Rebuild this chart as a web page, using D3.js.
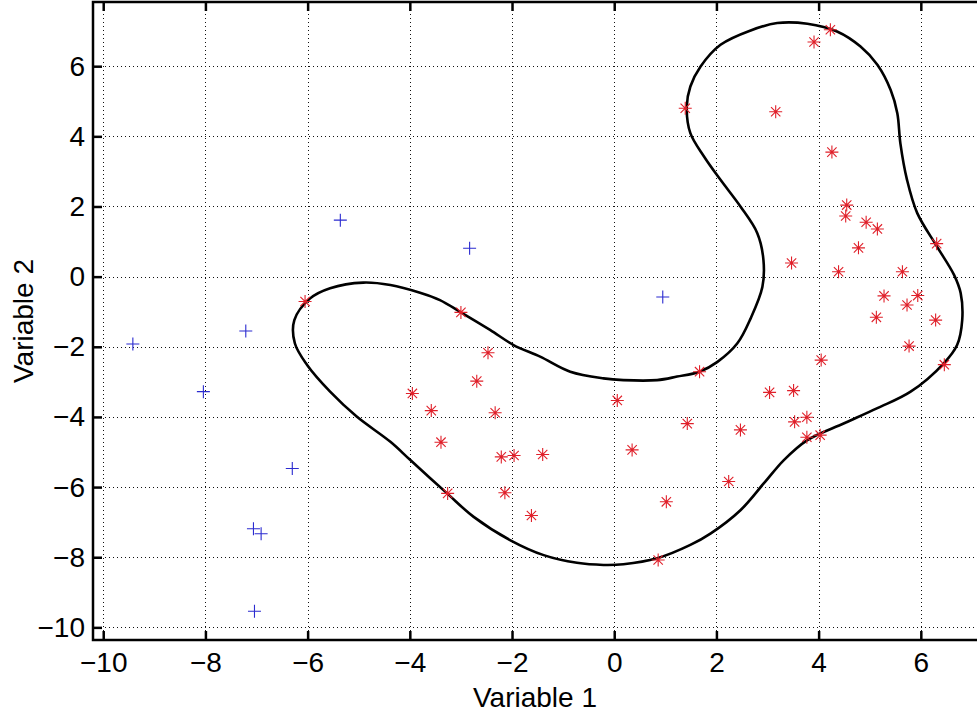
<!DOCTYPE html>
<html>
<head>
<meta charset="utf-8">
<script src="https://cdn.jsdelivr.net/npm/d3@7"></script>
<style>
  body { margin: 0; background: #fff; }
  svg { display: block; }
</style>
</head>
<body>
<div id="viz"></div>
<script>
// Scatter of two classes with a closed decision boundary

const xTicks = [-10, -8, -6, -4, -2, 0, 2, 4, 6];
const yTicks = [-10, -8, -6, -4, -2, 0, 2, 4, 6];

// class 1 (blue +), outside the boundary
const outsidePts = [
    [-9.42, -1.92], [-8.04, -3.28], [-7.21, -1.55], [-6.30, -5.47], [-7.06, -7.19],
    [-6.91, -7.33], [-7.04, -9.54], [-5.36, 1.61], [-2.83, 0.81], [0.95, -0.58]
];

// class 2 (red *), inside the boundary
const insidePts = [
    [-6.05, -0.71], [1.39, 4.80], [-3.00, -1.02], [4.23, 7.04], [3.91, 6.69],
    [3.16, 4.70], [4.26, 3.55], [4.55, 2.04], [4.53, 1.73], [4.93, 1.55],
    [5.15, 1.36], [4.78, 0.82], [3.47, 0.39], [4.39, 0.14], [5.64, 0.14],
    [6.31, 0.94], [5.28, -0.55], [5.94, -0.54], [5.73, -0.81], [5.13, -1.16],
    [6.29, -1.24], [5.77, -1.98], [6.46, -2.51], [1.67, -2.71], [4.05, -2.38],
    [3.04, -3.30], [3.51, -3.25], [1.43, -4.19], [2.47, -4.37], [3.53, -4.14],
    [3.77, -4.01], [3.77, -4.58], [4.03, -4.52], [2.24, -5.84], [-2.47, -2.17],
    [-2.69, -2.98], [-3.95, -3.33], [-3.58, -3.82], [-2.33, -3.88], [-3.39, -4.72],
    [-2.21, -5.14], [-1.96, -5.10], [-1.40, -5.07], [-3.26, -6.18], [-2.14, -6.16],
    [-1.62, -6.81], [0.06, -3.53], [0.35, -4.94], [1.02, -6.42], [0.86, -8.08]
];

// boundary contour, traced in data units
const boundary = [
    [-6.26, -1.24], [-6.25, -1.90], [-6.01, -2.52], [-5.56, -3.28], [-5.04, -3.99],
    [-4.38, -4.71], [-3.99, -5.23], [-3.27, -6.18], [-2.75, -6.85], [-2.04, -7.51],
    [-1.38, -7.94], [-0.73, -8.16], [-0.21, -8.22], [0.18, -8.20], [0.84, -8.03],
    [1.49, -7.65], [1.89, -7.32], [2.47, -6.66], [2.93, -5.89], [3.32, -5.23],
    [3.78, -4.66], [4.50, -4.18], [5.15, -3.75], [5.80, -3.28], [6.45, -2.47],
    [6.71, -1.95], [6.81, -1.24], [6.78, -0.47], [6.65, 0.05], [6.32, 0.85],
    [5.93, 1.81], [5.73, 2.76], [5.60, 3.80], [5.54, 4.66], [5.41, 5.32],
    [5.15, 6.04], [4.82, 6.56], [4.36, 6.99], [3.78, 7.21], [3.19, 7.23],
    [2.67, 7.02], [2.08, 6.61], [1.69, 5.99], [1.49, 5.42], [1.42, 4.85],
    [1.49, 4.09], [1.76, 3.42], [2.08, 2.76], [2.47, 2.00], [2.80, 1.24],
    [2.92, 0.48], [2.90, -0.29], [2.67, -1.19], [2.41, -1.90], [2.02, -2.43],
    [1.67, -2.71], [1.23, -2.85], [0.84, -2.95], [0.18, -2.95], [-0.21, -2.90],
    [-0.86, -2.71], [-1.45, -2.28], [-1.97, -1.95], [-2.43, -1.52], [-3.00, -1.02],
    [-3.41, -0.67], [-3.80, -0.46], [-4.38, -0.24], [-4.91, -0.17], [-5.56, -0.33],
    [-5.95, -0.62]
];

const width = 977, height = 715;
const xDomain = [-10.2, 7.4];
const yDomain = [-10.36, 7.83];

const svg = d3.select("#viz")
    .append("svg")
    .attr("width", width)
    .attr("height", height)
    .style("background-color", "#fff")
    .style("font-family", "Arial, 'Liberation Sans', sans-serif");

const x = d3.scaleLinear().domain(xDomain).range([93, 93 + 17.6 * 51.1]);
const y = d3.scaleLinear().domain(yDomain).range([640, 2]);

const plotLeft = x(xDomain[0]), plotRight = x(xDomain[1]);
const plotTop = y(yDomain[1]), plotBottom = y(yDomain[0]);

// dotted grid
const grid = svg.append("g")
    .attr("stroke", "#111")
    .attr("stroke-width", 1)
    .attr("stroke-dasharray", "1,3");

grid.selectAll("line.vx")
    .data(xTicks)
    .enter().append("line")
    .attr("x1", d => Math.round(x(d)) + 0.5).attr("x2", d => Math.round(x(d)) + 0.5)
    .attr("y1", plotTop).attr("y2", plotBottom);

grid.selectAll("line.hy")
    .data(yTicks)
    .enter().append("line")
    .attr("y1", d => Math.round(y(d)) + 0.5).attr("y2", d => Math.round(y(d)) + 0.5)
    .attr("x1", plotLeft).attr("x2", plotRight);

// boundary
svg.append("path")
    .datum(boundary)
    .attr("fill", "none")
    .attr("stroke", "#000")
    .attr("stroke-width", 2.6)
    .attr("d", d3.line()
        .x(d => x(d[0]))
        .y(d => y(d[1]))
        .curve(d3.curveCatmullRomClosed.alpha(0.5)));

// markers
const plusPath = r => `M${-r},0H${r}M0,${-r}V${r}`;
const starPath = r => {
    const q = r * 0.72;
    return `M${-r},0H${r}M0,${-r}V${r}M${-q},${-q}L${q},${q}M${-q},${q}L${q},${-q}`;
};

svg.selectAll("path.outside")
    .data(outsidePts)
    .enter().append("path")
    .attr("class", "outside")
    .attr("d", plusPath(6.5))
    .attr("transform", d => `translate(${x(d[0])},${y(d[1])})`)
    .attr("stroke", "#2b2bd0")
    .attr("stroke-width", 1.1)
    .attr("fill", "none");

svg.selectAll("path.inside")
    .data(insidePts)
    .enter().append("path")
    .attr("class", "inside")
    .attr("d", starPath(6.5))
    .attr("transform", d => `translate(${x(d[0])},${y(d[1])})`)
    .attr("stroke", "#e0202a")
    .attr("stroke-width", 1.1)
    .attr("fill", "none");

// axes with inward ticks
const fontSize = 28;

const xAxis = svg.append("g")
    .attr("transform", `translate(0,${plotBottom})`)
    .call(d3.axisBottom(x).tickValues(xTicks).tickSize(-9).tickPadding(12).tickFormat(d3.format("d")));

const xAxisTop = svg.append("g")
    .attr("transform", `translate(0,${plotTop})`)
    .call(d3.axisTop(x).tickValues(xTicks).tickSize(-9).tickFormat(""));

const yAxis = svg.append("g")
    .attr("transform", `translate(${plotLeft},0)`)
    .call(d3.axisLeft(y).tickValues(yTicks).tickSize(-9).tickPadding(8).tickFormat(d3.format("d")));

const yAxisRight = svg.append("g")
    .attr("transform", `translate(${plotRight},0)`)
    .call(d3.axisRight(y).tickValues(yTicks).tickSize(-9).tickFormat(""));

[xAxis, xAxisTop, yAxis, yAxisRight].forEach(g => {
    g.select(".domain").remove();
    g.selectAll(".tick line").attr("stroke", "#000").attr("stroke-width", 2.5);
    g.selectAll("text")
        .attr("fill", "#000")
        .attr("font-size", fontSize)
        .attr("font-family", "Arial, 'Liberation Sans', sans-serif");
});

// frame
svg.append("rect")
    .attr("x", plotLeft).attr("y", plotTop)
    .attr("width", plotRight - plotLeft).attr("height", plotBottom - plotTop)
    .attr("fill", "none")
    .attr("stroke", "#000")
    .attr("stroke-width", 2.5);

// axis labels
svg.append("text")
    .attr("x", (plotLeft + width) / 2)
    .attr("y", 707)
    .attr("text-anchor", "middle")
    .attr("font-size", fontSize)
    .text("Variable 1");

svg.append("text")
    .attr("transform", `translate(33,${(plotTop + plotBottom) / 2}) rotate(-90)`)
    .attr("text-anchor", "middle")
    .attr("font-size", fontSize)
    .text("Variable 2");
</script>
</body>
</html>
